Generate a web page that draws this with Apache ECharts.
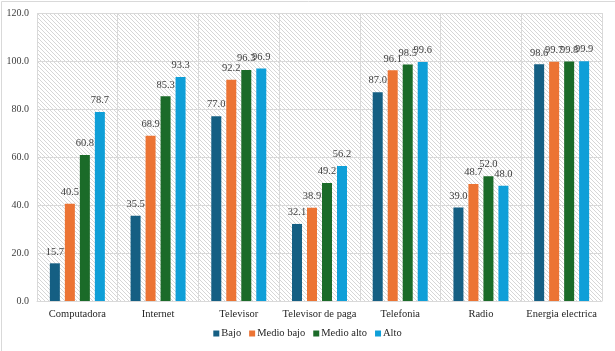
<!DOCTYPE html>
<html>
<head>
<meta charset="utf-8">
<script src="https://cdn.jsdelivr.net/npm/echarts@6/dist/echarts.min.js"></script>
<style>
html, body { margin: 0; padding: 0; background: #fff; }
#wrap { position: relative; width: 615px; height: 351px; }
#hatch { position: absolute; left: 37px; top: 13px; width: 565px; height: 288px; }
#chart { position: absolute; left: 0; top: 0; width: 615px; height: 351px; }
</style>
</head>
<body>
<div id="wrap">
<div id="hatch"></div>
<div id="chart"></div>
</div>
<script>
const categories = ["Computadora", "Internet", "Televisor", "Televisor de paga", "Telefonia", "Radio", "Energia electrica"];
const seriesNames = ["Bajo", "Medio bajo", "Medio alto", "Alto"];
const bajo = [15.7, 35.5, 77.0, 32.1, 87.0, 39.0, 98.6];
const medioBajo = [40.5, 68.9, 92.2, 38.9, 96.1, 48.7, 99.7];
const medioAlto = [60.8, 85.3, 96.3, 49.2, 98.5, 52.0, 99.8];
const alto = [78.7, 93.3, 96.9, 56.2, 99.6, 48.0, 99.9];
const colors = ["#155f83", "#ec7434", "#1b6b29", "#0f9fd8"];

// Motif hachuré (diagonales) pour le fond de la zone de tracé
function hatchTile()
{
    const size = 4;
    const c = document.createElement("canvas");
    c.width = size;
    c.height = size;
    const ctx = c.getContext("2d");
    ctx.fillStyle = "#ffffff";
    ctx.fillRect(0, 0, size, size);
    ctx.fillStyle = "#d6d6d6";
    for (let i = 0; i < size; i++)
    {
        ctx.fillRect(i, i, 1, 1);
    }
    return c.toDataURL();
}

document.getElementById("hatch").style.backgroundImage = "url(" + hatchTile() + ")";

const font = "Liberation Serif";
const chart = echarts.init(document.getElementById("chart"));

const data = [bajo, medioBajo, medioAlto, alto];

chart.setOption({
    animation: false,
    backgroundColor: "transparent",
    textStyle: { fontFamily: font },
    // Bordure légère autour du graphique
    graphic: [{
        type: "rect",
        shape: { x: 1.5, y: 1.5, width: 640, height: 360 },
        style: { fill: "none", stroke: "#d9d9d9", lineWidth: 1 },
        silent: true
    }],
    grid: { left: 37, right: 13, top: 13, bottom: 50 },
    legend: {
        bottom: 7,
        left: "center",
        itemWidth: 6,
        itemHeight: 6,
        itemGap: 8,
        icon: "rect",
        textStyle: { fontFamily: font, fontSize: 10.5, color: "#262626", padding: [0, 0, 0, -3] },
        data: seriesNames
    },
    xAxis: {
        type: "category",
        data: categories,
        axisLine: { lineStyle: { color: "#d9d9d9" } },
        axisTick: { show: false },
        splitLine: { show: true, lineStyle: { color: "#d9d9d9" } },
        axisLabel: { fontFamily: font, fontSize: 10.5, color: "#262626", margin: 8, interval: 0 }
    },
    yAxis: {
        type: "value",
        min: 0,
        max: 120,
        interval: 20,
        axisLine: { show: false },
        axisTick: { show: false },
        splitLine: { lineStyle: { color: "#d9d9d9" } },
        axisLabel: {
            fontFamily: font, fontSize: 10, color: "#404040", margin: 8,
            formatter: (v) => v.toFixed(1)
        }
    },
    series: seriesNames.map((name, i) => ({
        name,
        type: "bar",
        data: data[i],
        barWidth: 10,
        barGap: "50%",
        itemStyle: { color: colors[i] },
        label: {
            show: true,
            position: "top",
            distance: 6,
            fontFamily: font,
            fontSize: 10.5,
            color: "#404040",
            formatter: (p) => p.value.toFixed(1)
        }
    }))
});
</script>
</body>
</html>
